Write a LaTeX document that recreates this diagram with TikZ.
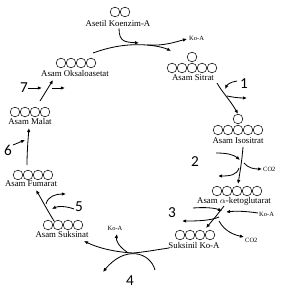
\documentclass[tikz,border=0pt]{standalone}
\usepackage{fontspec}
\setmainfont{Liberation Serif}
\newfontfamily\numfont{Carlito}
\usetikzlibrary{arrows.meta}
% one row of carbon atoms: x, y, count, name
\newcommand{\molrow}[4]{\foreach \i in {1,...,#3} \node[atom] (#4\i) at ({#1+10*(\i-1)},#2) {};}

\tikzset{
  atom/.style={circle, draw, line width=0.45pt, minimum size=0.29cm, inner sep=0pt},
  mol/.style={font=\fontsize{7.5}{8}\selectfont, inner sep=0pt},
  tiny/.style={font=\fontsize{5.5}{6}\selectfont, inner sep=0pt},
  numlbl/.style={font=\numfont\fontsize{13}{13}\selectfont, inner sep=0pt},
  path/.style={line width=0.7pt},
  flow/.style={line width=0.7pt, -{Latex[length=3.5pt,width=3pt]}},
}

\begin{document}
\begin{tikzpicture}[x=0.03cm, y=-0.03cm]
  \useasboundingbox (0,0) rectangle (281,293);
  % molecules
  \molrow{115}{12}{2}{ase}
  \node[mol] (asetil) at (118,23) {Asetil Koenzim-A};
  \node[atom] (sit0) at (192,57) {};
  \molrow{172}{68}{5}{sit}
  \node[mol] (sitrat) at (193,78) {Asam Sitrat};
  \node[atom] (iso0) at (238,119) {};
  \molrow{218}{130}{5}{iso}
  \node[mol] (isositrat) at (238,141) {Asam Isositrat};
  \molrow{217}{191}{5}{ket}
  \node[mol] (keto) at (234,201) {Asam $\alpha$-ketoglutarat};
  \molrow{180}{235}{4}{suk}
  \node[mol] (suksinil) at (194,245) {Suksinil Ko-A};
  \molrow{48}{225}{4}{sks}
  \node[mol] (suksinat) at (62,234) {Asam Suksinat};
  \molrow{18}{175}{4}{fum}
  \node[mol] (fumarat) at (31,184) {Asam Fumarat};
  \molrow{15}{112}{4}{mal}
  \node[mol] (malat) at (30,121) {Asam Malat};
  \molrow{61}{63}{4}{oks}
  \node[mol] (oksalo) at (75,73) {Asam Oksaloasetat};
  % step numbers
  \node[numlbl] (n1) at (244,84) {1};
  \node[numlbl] (n2) at (195,162) {2};
  \node[numlbl] (n3) at (172,213) {3};
  \node[numlbl] (n4) at (130,281) {4};
  \node[numlbl] (n5) at (79,207) {5};
  \node[numlbl] (n6) at (8,150) {6};
  \node[numlbl] (n7) at (24,88) {7};
  % entry of acetyl-CoA
  \coordinate (s0) at (147,45);
  \coordinate (s0a) at (187,39);
  \coordinate (s0b) at (171,51);
  \draw[path] (93,53) .. controls (115,45) and (132,44) .. (s0);
  \draw[flow] (s0) .. controls (165,46) and (175,42) .. (s0a);
  \draw[flow] (s0) .. controls (158,46) and (165,48) .. (s0b);
  \draw[flow] (asetil.south) ++(1,2) .. controls (119,42) and (125,42) .. (139,43);
  \node[tiny, anchor=west] (koa0) at (189,38) {Ko-A};
  % step 1
  \coordinate (s1) at (227,96);
  \draw[flow] (217,83) .. controls (222,92) and (230,100) .. (iso0.north);
  \draw[flow] (s1) .. controls (232,97) and (238,98) .. (247,98);
  \draw[flow] (237,81) .. controls (230,82) and (227,85) .. (225,89);
  % step 2
  \coordinate (s2) at (241,162);
  \draw[flow] (243,147) .. controls (242,160) and (240,172) .. (238,184);
  \draw[flow] (216,153) .. controls (228,153) and (234,155) .. (240,160);
  \draw[flow] (s2) ++(3,1) .. controls (248,168) and (254,169) .. (262,169);
  \draw[flow] (239,168) .. controls (237,175) and (230,176) .. (218,176);
  \node[tiny, anchor=west] (co2a) at (263,169) {CO2};
  % step 3
  \draw[flow] (224,206) .. controls (218,214) and (212,221) .. (206,228);
  \draw[flow] (193,208) .. controls (205,207) and (215,208) .. (222,211);
  \draw[flow] (258,213) .. controls (245,211) and (235,211) .. (226,212);
  \node[tiny, anchor=west] (koa3) at (259,214) {Ko-A};
  \draw[flow] (219,217) .. controls (210,221) and (195,221) .. (182,221);
  \draw[flow] (219,221) .. controls (225,232) and (235,235) .. (244,237);
  \node[tiny, anchor=west] (co2b) at (245,240) {CO2};
  % step 4
  \coordinate (s4) at (133,253);
  \draw[path] (169,248) .. controls (155,250) and (145,252) .. (s4);
  \draw[flow] (s4) .. controls (115,252) and (98,248) .. (84,241);
  \draw[flow] (155,270) .. controls (150,252) and (125,245) .. (103,272);
  \draw[flow] (127,252) .. controls (118,246) and (116,240) .. (117,234);
  \node[tiny] (koa4) at (115,228) {Ko-A};
  % step 5
  \coordinate (s5) at (46,204);
  \draw[flow] (54,221) .. controls (46,208) and (42,200) .. (36,190);
  \draw[flow] (s5) .. controls (48,196) and (56,194) .. (66,194);
  \draw[flow] (74,209) .. controls (66,206) and (58,206) .. (52,209);
  % step 6
  \draw[flow] (27,165) .. controls (27,152) and (28,140) .. (29,128);
  \draw[flow] (13,145) -- (25,140);
  % step 7
  \draw[flow] (40,101) -- (53,80);
  \draw[flow] (28,88) -- (42,88);
  \draw[flow] (52,88) -- (65,88);
\end{tikzpicture}
\end{document}
